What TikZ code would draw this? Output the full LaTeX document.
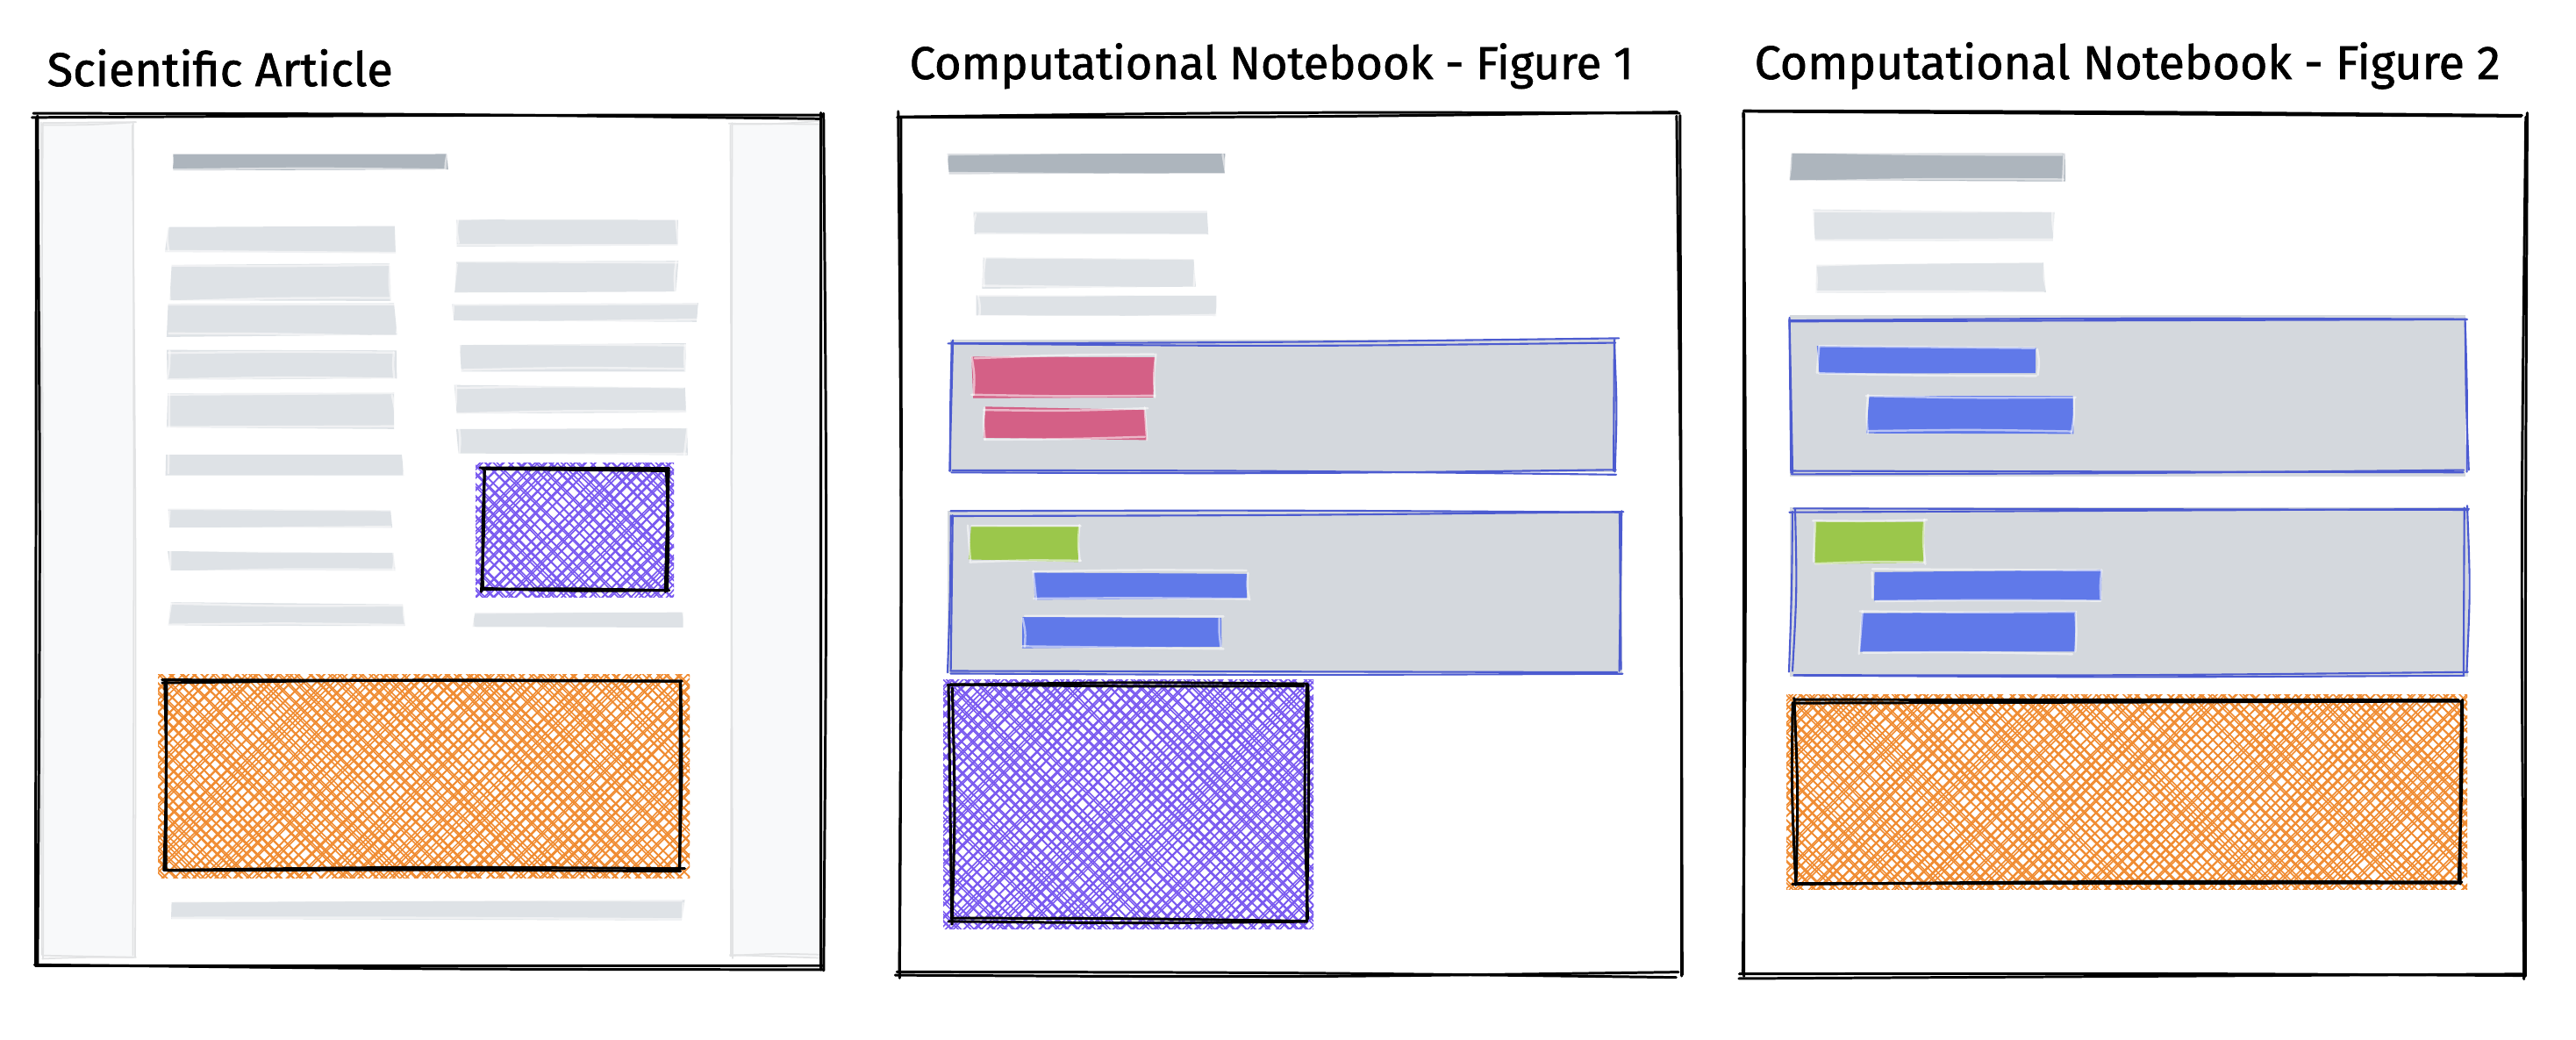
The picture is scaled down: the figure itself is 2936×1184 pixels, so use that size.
\documentclass[tikz,border=0pt]{standalone}
\usepackage{fontspec}
\setmainfont{Fira Sans}
\usepackage{graphicx}
\definecolor{barlight}{HTML}{DEE2E6}
\definecolor{bardark}{HTML}{ADB5BD}
\definecolor{sidefill}{HTML}{F8F9FA}
\definecolor{sidestroke}{HTML}{E2E3E4}
\definecolor{cellfill}{HTML}{D4D8DD}
\definecolor{cellblue}{HTML}{4C5BD0}
\definecolor{barblue}{HTML}{6079E9}
\definecolor{barpink}{HTML}{D46086}
\definecolor{bargreen}{HTML}{9BC74B}
\definecolor{hatchorange}{HTML}{F08C32}
\definecolor{hatchpurple}{HTML}{7A5AF0}
\tikzset{
  frame/.style={draw=black,line width=0.85pt,line cap=round},
  boxline/.style={draw=black,line width=0.85pt,line cap=round},
  cellline/.style={draw=cellblue,line width=0.6pt,line cap=round},
  sideline/.style={draw=sidestroke,line width=0.5pt,line cap=round},
  barline/.style={draw=white,draw opacity=0.55,line width=0.7pt,line cap=round},
  hatchline/.style={line width=0.45pt,line cap=round},
  titletext/.style={anchor=base west,inner sep=0,font=\addfontfeature{FakeBold=1.3}},
}
\newcommand\skj{3}
\newcommand\skb{3}
\newcommand\skline[5]{%
  \pgfmathsetmacro\sxa{#2+rand*\skj}%
  \pgfmathsetmacro\sya{#3+rand*\skj}%
  \pgfmathsetmacro\sxb{#4+rand*\skj}%
  \pgfmathsetmacro\syb{#5+rand*\skj}%
  \pgfmathsetmacro\sbw{rand*\skb}%
  \pgfmathsetmacro\slen{max(veclen(\sxb-\sxa,\syb-\sya),1)}%
  \pgfmathsetmacro\smx{(\sxa+\sxb)/2-(\syb-\sya)/\slen*\sbw}%
  \pgfmathsetmacro\smy{(\sya+\syb)/2+(\sxb-\sxa)/\slen*\sbw}%
  \draw[#1] (\sxa,\sya) .. controls (\smx,\smy) .. (\sxb,\syb);%
}
\newcommand\skbox[5]{%
  \skline{#1}{#2}{#3}{#4}{#3}\skline{#1}{#4}{#3}{#4}{#5}%
  \skline{#1}{#4}{#5}{#2}{#5}\skline{#1}{#2}{#5}{#2}{#3}}
\newcommand\skrect[5]{\skbox{#1}{#2}{#3}{#4}{#5}\skbox{#1}{#2}{#3}{#4}{#5}}
\newcommand\skfill[5]{%
  \fill[#1] ({#2+rand*2},{#3+rand*2}) -- ({#4+rand*2},{#3+rand*2}) --
    ({#4+rand*2},{#5+rand*2}) -- ({#2+rand*2},{#5+rand*2}) -- cycle;}
% text bar: fill + light sketch stroke
\newcommand\tbar[5]{\skfill{#1}{#2}{#3}{#4}{#5}%
  \renewcommand\skj{2.5}\renewcommand\skb{2.5}\skbox{barline}{#2}{#3}{#4}{#5}}
\newcommand\hgap{12}
\newcommand\hatch[5]{%
  \begin{scope}
    \clip (#2-8,#3-8) rectangle (#4+8,#5+8);
    \pgfmathsetmacro\hca{#2-#5-20}\pgfmathsetmacro\hcb{\hca+\hgap}\pgfmathsetmacro\hcc{#4-#3+20}%
    \foreach \hk in {\hca,\hcb,...,\hcc}{\foreach \hp in {1,2}{%
      \draw[hatchline,#1] ({\hk+#3-20+rand*4},{#3-20}) -- ({\hk+#5+20+rand*4},{#5+20});}}
    \pgfmathsetmacro\hda{#2+#3-20}\pgfmathsetmacro\hdb{\hda+\hgap}\pgfmathsetmacro\hdc{#4+#5+20}%
    \foreach \hk in {\hda,\hdb,...,\hdc}{\foreach \hp in {1,2}{%
      \draw[hatchline,#1] ({\hk-#3+20+rand*4},{#3-20}) -- ({\hk-#5-20+rand*4},{#5+20});}}
  \end{scope}}
\begin{document}
\begin{tikzpicture}[x=0.1mm,y=-0.1mm]
\pgfmathsetseed{11}
\useasboundingbox (0,0) rectangle (2936,1184);
\fill[white] (0,0) rectangle (2936,1184);

% ---------- titles ----------
\node[titletext] (t1) at (53,98) {\resizebox{39.4mm}{!}{Scientific Article}};
\node[titletext] (t2) at (1036,90) {\resizebox{82.5mm}{!}{Computational Notebook - Figure 1}};
\node[titletext] (t3) at (1999,90) {\resizebox{85mm}{!}{Computational Notebook - Figure 2}};

% ---------- panel 1: scientific article ----------
\fill[sidefill] (47,140) rectangle (153,1090);
\fill[sidefill] (833,140) rectangle (934,1090);
\renewcommand\skj{3}\renewcommand\skb{3}
\skrect{sideline}{47}{140}{153}{1090}
\renewcommand\skj{3}\renewcommand\skb{3}
\skrect{sideline}{833}{140}{934}{1090}

\tbar{bardark}{197}{174}{509}{195}
% left column
\tbar{barlight}{190}{257}{451}{287}
\tbar{barlight}{194}{302}{444}{342}
\tbar{barlight}{191}{345}{451}{382}
\tbar{barlight}{191}{400}{451}{432}
\tbar{barlight}{191}{449}{449}{488}
\tbar{barlight}{190}{517}{459}{541}
\tbar{barlight}{193}{580}{447}{602}
\tbar{barlight}{193}{628}{450}{650}
\tbar{barlight}{193}{688}{461}{714}
% right column
\tbar{barlight}{522}{250}{772}{279}
\tbar{barlight}{519}{299}{772}{334}
\tbar{barlight}{516}{346}{795}{366}
\tbar{barlight}{524}{393}{781}{422}
\tbar{barlight}{519}{440}{781}{470}
\tbar{barlight}{521}{488}{782}{518}
\tbar{barlight}{540}{697}{780}{716}
\tbar{barlight}{195}{1027}{779}{1047}

\hatch{hatchpurple}{550}{535}{760}{672}
\renewcommand\skj{3}\renewcommand\skb{3}
\skrect{boxline}{550}{535}{760}{672}
\hatch{hatchorange}{188}{776}{778}{992}
\renewcommand\skj{4}\renewcommand\skb{3}
\skrect{boxline}{188}{776}{778}{992}

\renewcommand\skj{4}\renewcommand\skb{4}
\skrect{frame}{39}{132}{937}{1102}

% ---------- panel 2: notebook figure 1 ----------
\tbar{bardark}{1080}{176}{1396}{199}
\tbar{barlight}{1111}{242}{1377}{267}
\tbar{barlight}{1121}{294}{1362}{327}
\tbar{barlight}{1114}{335}{1387}{361}

\fill[cellfill] (1083,387) rectangle (1842,538);
\renewcommand\skj{4}\renewcommand\skb{4}
\skrect{cellline}{1083}{389}{1842}{537}
\tbar{barpink}{1109}{406}{1316}{452}
\tbar{barpink}{1121}{465}{1306}{500}

\fill[cellfill] (1080,582) rectangle (1849,767);
\renewcommand\skj{4}\renewcommand\skb{4}
\skrect{cellline}{1082}{585}{1847}{765}
\tbar{bargreen}{1105}{600}{1230}{639}
\tbar{barblue}{1179}{652}{1422}{683}
\tbar{barblue}{1166}{703}{1392}{738}

\hatch{hatchpurple}{1083}{782}{1489}{1050}
\renewcommand\skj{4}\renewcommand\skb{4}
\skrect{boxline}{1083}{782}{1489}{1050}

\renewcommand\skj{4}\renewcommand\skb{5}
\skrect{frame}{1024}{130}{1914}{1111}

% ---------- panel 3: notebook figure 2 ----------
\tbar{bardark}{2040}{174}{2352}{206}
\tbar{barlight}{2067}{240}{2341}{274}
\tbar{barlight}{2069}{300}{2331}{332}

\fill[cellfill] (2040,359) rectangle (2810,543);
\renewcommand\skj{4}\renewcommand\skb{4}
\skrect{cellline}{2042}{364}{2810}{537}
\tbar{barblue}{2072}{396}{2321}{427}
\tbar{barblue}{2129}{452}{2363}{493}

\fill[cellfill] (2040,578) rectangle (2813,771);
\renewcommand\skj{4}\renewcommand\skb{4}
\skrect{cellline}{2042}{580}{2811}{768}
\tbar{bargreen}{2068}{594}{2194}{642}
\tbar{barblue}{2136}{650}{2394}{683}
\tbar{barblue}{2121}{697}{2364}{744}

\hatch{hatchorange}{2044}{799}{2804}{1005}
\renewcommand\skj{4}\renewcommand\skb{4}
\skrect{boxline}{2044}{799}{2804}{1005}

\renewcommand\skj{4}\renewcommand\skb{5}
\skrect{frame}{1985}{130}{2877}{1113}
\end{tikzpicture}
\end{document}
